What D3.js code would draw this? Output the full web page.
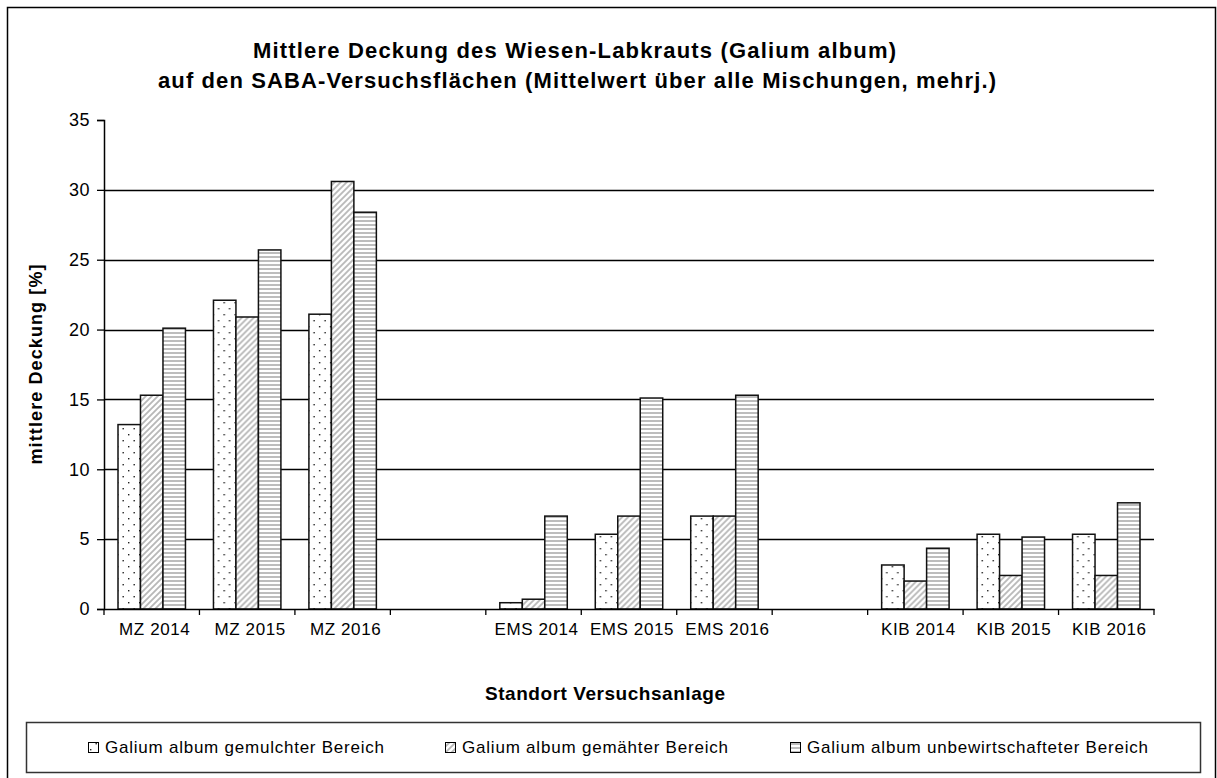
<!DOCTYPE html>
<html>
<head>
<meta charset="utf-8">
<script src="https://cdn.jsdelivr.net/npm/d3@7"></script>
<style>
  body { margin: 0; background: #fff; }
  svg { font-family: "Liberation Sans", Arial, sans-serif; }
</style>
</head>
<body>
<div id="chart"></div>
<script>
// categories (empty slots separate the three sites)
var categories = ["MZ 2014", "MZ 2015", "MZ 2016", "", "EMS 2014", "EMS 2015", "EMS 2016", " ", "KIB 2014", "KIB 2015", "KIB 2016"];
var seriesNames = ["Galium album gemulchter Bereich", "Galium album gemähter Bereich", "Galium album unbewirtschafteter Bereich"];
var mulched   = [13.2, 22.1, 21.1, null, 0.45, 5.35, 6.65, null, 3.15, 5.35, 5.35];
var mowed     = [15.3, 20.9, 30.6, null, 0.7, 6.65, 6.65, null, 2.0, 2.4, 2.4];
var unmanaged = [20.1, 25.7, 28.4, null, 6.65, 15.1, 15.3, null, 4.35, 5.15, 7.6];
var yTicks = [0, 5, 10, 15, 20, 25, 30, 35];

var W = 1217, H = 778;
var margin = { top: 120, left: 104, right: 63, bottom: 169 };
var width = W - margin.left - margin.right,
    height = H - margin.top - margin.bottom;

var svg = d3.select("#chart").append("svg")
    .attr("width", W)
    .attr("height", H);

// patterns
var defs = svg.append("defs");
var dots = defs.append("pattern").attr("id", "p-dots")
    .attr("patternUnits", "userSpaceOnUse").attr("width", 11).attr("height", 12);
dots.append("rect").attr("width", 11).attr("height", 12).attr("fill", "#fff");
dots.append("rect").attr("x", 2).attr("y", 2).attr("width", 1.4).attr("height", 1.4).attr("fill", "#222");
dots.append("rect").attr("x", 7.5).attr("y", 8).attr("width", 1.4).attr("height", 1.4).attr("fill", "#222");

var diag = defs.append("pattern").attr("id", "p-diag")
    .attr("patternUnits", "userSpaceOnUse").attr("width", 6).attr("height", 6);
diag.append("rect").attr("width", 6).attr("height", 6).attr("fill", "#fff");
diag.append("path").attr("d", "M-1,7 L7,-1 M-4,4 L4,-4 M2,10 L10,2")
    .attr("stroke", "#b8b8b8").attr("stroke-width", 1.8);

var horiz = defs.append("pattern").attr("id", "p-horiz")
    .attr("patternUnits", "userSpaceOnUse").attr("width", 8).attr("height", 4);
horiz.append("rect").attr("width", 8).attr("height", 4).attr("fill", "#fff");
horiz.append("rect").attr("y", 0).attr("width", 8).attr("height", 2).attr("fill", "#bdbdbd");

var fills = ["url(#p-dots)", "url(#p-diag)", "url(#p-horiz)"];

// outer frame
svg.append("rect")
    .attr("x", 7.5).attr("y", 7.5)
    .attr("width", 1208).attr("height", 780)
    .attr("fill", "none").attr("stroke", "#000").attr("stroke-width", 1.5);

// title
var title = svg.append("text")
    .attr("text-anchor", "start")
    .style("font-weight", "bold").style("font-size", "22px");
title.append("tspan").attr("x", 253).attr("y", 58)
    .attr("textLength", 643).attr("lengthAdjust", "spacing")
    .text("Mittlere Deckung des Wiesen-Labkrauts (Galium album)");
title.append("tspan").attr("x", 158).attr("y", 88)
    .attr("textLength", 838).attr("lengthAdjust", "spacing")
    .text("auf den SABA-Versuchsflächen (Mittelwert über alle Mischungen, mehrj.)");

var g = svg.append("g")
    .attr("transform", "translate(" + margin.left + "," + margin.top + ")");

var x = d3.scaleBand().domain(categories).range([0, width]).paddingInner(0).paddingOuter(0);
var x1 = d3.scaleBand().domain([0, 1, 2]).range([14, x.bandwidth() - 14]);
var y = d3.scaleLinear().domain([0, 35]).range([height, 0]);

// gridlines
g.selectAll(".grid").data(yTicks.filter(function(d) { return d > 0 && d < 35; }))
    .enter().append("line")
    .attr("x1", 0).attr("x2", width)
    .attr("y1", function(d) { return Math.round(y(d)) + 0.5; })
    .attr("y2", function(d) { return Math.round(y(d)) + 0.5; })
    .attr("stroke", "#000").attr("stroke-width", 1.3);

// bars
var data = categories.map(function(c, i) {
    return { cat: c, vals: [mulched[i], mowed[i], unmanaged[i]] };
});
var groups = g.selectAll(".grp").data(data).enter().append("g")
    .attr("transform", function(d) { return "translate(" + x(d.cat) + ",0)"; });
groups.selectAll("rect")
    .data(function(d) { return d.vals.map(function(v, k) { return { k: k, v: v }; }).filter(function(e) { return e.v != null; }); })
    .enter().append("rect")
    .attr("x", function(d) { return x1(d.k); })
    .attr("y", function(d) { return y(d.v); })
    .attr("width", x1.bandwidth())
    .attr("height", function(d) { return height - y(d.v); })
    .attr("fill", function(d) { return fills[d.k]; })
    .attr("stroke", "#111").attr("stroke-width", 1.5);

// y axis
var yAxis = g.append("g")
    .call(d3.axisLeft(y).tickValues(yTicks).tickSize(7).tickPadding(7));
yAxis.select(".domain").attr("stroke", "#000").attr("stroke-width", 1.5);
yAxis.selectAll(".tick line").attr("stroke", "#000").attr("stroke-width", 1.3);
yAxis.selectAll("text").style("font-size", "18px").style("letter-spacing", "0.5px").attr("fill", "#000")
    .style("font-family", "'Liberation Sans', Arial, sans-serif");

// x axis
var xAxis = g.append("g").attr("transform", "translate(0," + height + ")")
    .call(d3.axisBottom(x).tickSize(0).tickPadding(14));
xAxis.select(".domain").attr("stroke", "#000").attr("stroke-width", 1.5);
xAxis.selectAll("text").style("font-size", "17px").style("letter-spacing", "0.6px").attr("fill", "#000")
    .attr("dx", 3)
    .style("font-family", "'Liberation Sans', Arial, sans-serif");
// boundary ticks between categories
g.selectAll(".xtick").data(categories.concat(["end"]))
    .enter().append("line")
    .attr("x1", function(d, i) { return i * x.bandwidth(); })
    .attr("x2", function(d, i) { return i * x.bandwidth(); })
    .attr("y1", height).attr("y2", height + 6)
    .attr("stroke", "#000").attr("stroke-width", 1.3);

// axis titles
svg.append("text")
    .attr("transform", "translate(42," + (margin.top + height / 2 - 100) + ") rotate(-90)")
    .attr("text-anchor", "end")
    .attr("textLength", 200).attr("lengthAdjust", "spacing")
    .style("font-weight", "bold").style("font-size", "18px")
    .text("mittlere Deckung [%]");
svg.append("text")
    .attr("x", 485).attr("y", 700)
    .attr("textLength", 240).attr("lengthAdjust", "spacing")
    .style("font-weight", "bold").style("font-size", "19px")
    .text("Standort Versuchsanlage");

// legend
svg.append("rect")
    .attr("x", 26.5).attr("y", 722.5).attr("width", 1174).attr("height", 50)
    .attr("fill", "#fff").attr("stroke", "#333").attr("stroke-width", 1.5);
var legendX = [88, 445, 790];
var legendLen = [279, 266, 341];
var leg = svg.selectAll(".leg").data(seriesNames).enter().append("g")
    .attr("transform", function(d, i) { return "translate(" + legendX[i] + ",747)"; });
leg.append("rect")
    .attr("x", 0.5).attr("y", -4.5).attr("width", 10).attr("height", 10)
    .attr("fill", function(d, i) { return fills[i]; })
    .attr("stroke", "#000").attr("stroke-width", 1);
leg.append("text")
    .attr("x", 17).attr("y", 6)
    .attr("textLength", function(d, i) { return legendLen[i]; })
    .attr("lengthAdjust", "spacing")
    .style("font-size", "17px")
    .text(function(d) { return d; });
</script>
</body>
</html>
